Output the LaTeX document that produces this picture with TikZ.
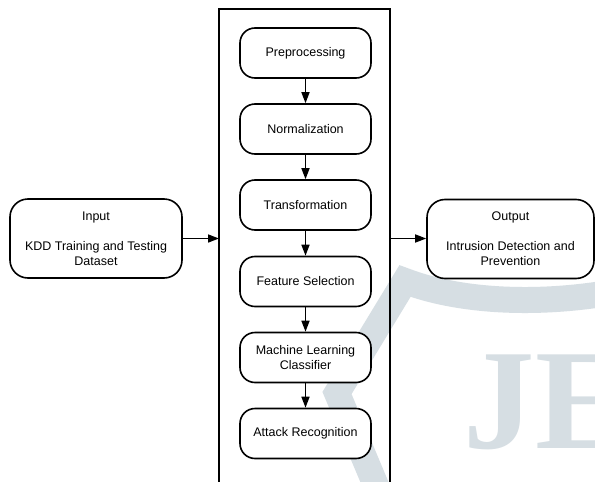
\documentclass[tikz,border=0pt]{standalone}
\usepackage{fontspec}
\setmainfont{Liberation Sans}
\newfontfamily\wmfont{Liberation Serif}
\usetikzlibrary{arrows.meta}
\definecolor{wm}{HTML}{D6DEE3}
\tikzset{
  procbox/.style={draw, line width=1.6pt, rounded corners=15pt, fill=white,
    minimum width=131pt, minimum height=50pt, align=center, inner sep=2pt,
    font=\fontsize{12.5}{15}\selectfont},
  iobox/.style={draw, line width=1.6pt, rounded corners=18pt, fill=white,
    minimum height=79pt, align=center, inner sep=2pt,
    font=\fontsize{12.5}{15}\selectfont},
  frame/.style={draw, line width=1.6pt},
  flow/.style={line width=1.6pt, -{Triangle[length=11pt,width=8pt]}},
  wmband/.style={draw=wm, line width=26pt, line join=miter},
  wmletter/.style={anchor=base west, inner sep=0pt, text=wm,
    font=\wmfont\bfseries\fontsize{143}{143}\selectfont},
}
\begin{document}
\begin{tikzpicture}[x=1pt,y=-1pt]
\clip (0,0) rectangle (595,482);
\fill[white] (0,0) rectangle (595,482);
% watermark
\draw[wmband] (382,500) -- (337,393) -- (405,281) .. controls (460,302) and (540,306) .. (620,291);
\node[wmletter] (wmj) at (463,448) {J};
\node[wmletter] (wme) at (535,448) {E};
% frame
\draw[frame] (219,9) rectangle (390,520);
\coordinate (fl) at (219,238.5);
\coordinate (fr) at (390,238.5);
% process boxes
\node[procbox] (pre) at (305.5,53) {Preprocessing};
\node[procbox] (norm) at (305.5,129) {Normalization};
\node[procbox] (trans) at (305.5,205) {Transformation};
\node[procbox] (feat) at (305.5,281.5) {Feature Selection};
\node[procbox] (ml) at (305.5,357.5) {Machine Learning\\Classifier};
\node[procbox] (att) at (305.5,433.5) {Attack Recognition};
% io boxes
\node[iobox, minimum width=172pt] (in) at (96,238.5) {Input\\[15pt]KDD Training and Testing\\Dataset};
\node[iobox, minimum width=167pt] (out) at (510.5,239) {Output\\[15pt]Intrusion Detection and\\Prevention};
% arrows
\draw[flow] (pre) -- (norm);
\draw[flow] (norm) -- (trans);
\draw[flow] (trans) -- (feat);
\draw[flow] (feat) -- (ml);
\draw[flow] (ml) -- (att);
\draw[flow] (in.east) -- (fl);
\draw[flow] (fr) -- (out.west |- fr);
\end{tikzpicture}
\end{document}
